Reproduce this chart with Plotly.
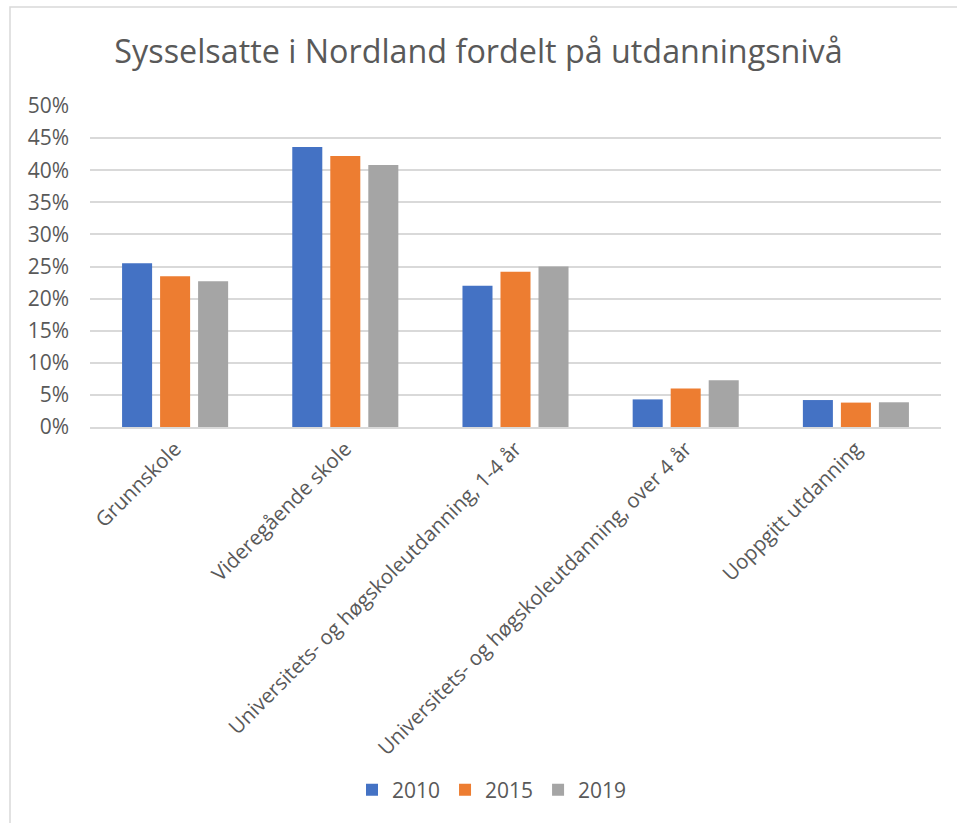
import plotly.graph_objects as go

categories = [
    "Grunnskole",
    "Videregående skole",
    "Universitets- og høgskoleutdanning, 1-4 år",
    "Universitets- og høgskoleutdanning, over 4 år",
    "Uoppgitt utdanning",
]
years = ["2010", "2015", "2019"]
values_2010 = [25.5, 43.6, 22.0, 4.3, 4.2]
values_2015 = [23.5, 42.2, 24.2, 6.0, 3.8]
values_2019 = [22.7, 40.8, 25.0, 7.3, 3.85]
colors = ["#4472C4", "#ED7D31", "#A5A5A5"]
y_ticks = [0, 5, 10, 15, 20, 25, 30, 35, 40, 45, 50]
y_tick_labels = [f"{v}%" for v in y_ticks]

W, H = 957, 823
L, R, T, B = 90, 16, 106, 396
pw, ph = W - L - R, H - T - B

def px_x(p):
    return (p - L) / pw

def px_y(p):
    return (H - B - p) / ph

fig = go.Figure()
for name, vals, col in zip(years, [values_2010, values_2015, values_2019], colors):
    fig.add_trace(go.Bar(x=categories, y=vals, name=name, marker_color=col,
                         marker_line_width=0))

fig.update_layout(
    width=W, height=H,
    margin=dict(l=L, r=R, t=T, b=B, autoexpand=False),
    paper_bgcolor="white", plot_bgcolor="white",
    font=dict(family="Open Sans", color="#595959"),
    title=dict(text="Sysselsatte i Nordland fordelt på utdanningsnivå",
               x=0.5, xanchor="center", y=1 - 52 / H, yanchor="middle",
               font=dict(size=32.3, color="#595959", family="Open Sans")),
    bargap=0.33, bargroupgap=0.21,
    showlegend=True,
    legend=dict(orientation="h", x=px_x(492), xanchor="center", y=px_y(790), yanchor="middle",
                font=dict(size=21, color="#595959"), traceorder="normal"),
    xaxis=dict(tickangle=-45, tickfont=dict(size=20.5, color="#595959"),
               showline=True, linecolor="#d9d9d9", linewidth=1.5,
               ticks="", showgrid=False, automargin=False),
    yaxis=dict(range=[0, 50], tickvals=y_ticks, ticktext=y_tick_labels,
               tickfont=dict(size=21, color="#595959"),
               showgrid=True, gridcolor="#d9d9d9", gridwidth=1.5,
               zeroline=False, showline=False, ticks="", ticklabelstandoff=20,
               automargin=False),
    shapes=[dict(type="rect", xref="paper", yref="paper",
                 x0=px_x(10), x1=px_x(965), y0=px_y(830), y1=px_y(7),
                 line=dict(color="#d9d9d9", width=1.5), fillcolor="rgba(0,0,0,0)",
                 layer="below")],
)

fig.write_html("out.html", config={"displayModeBar": False},
               post_script="document.body.style.margin='0px';document.body.style.overflow='hidden';")
